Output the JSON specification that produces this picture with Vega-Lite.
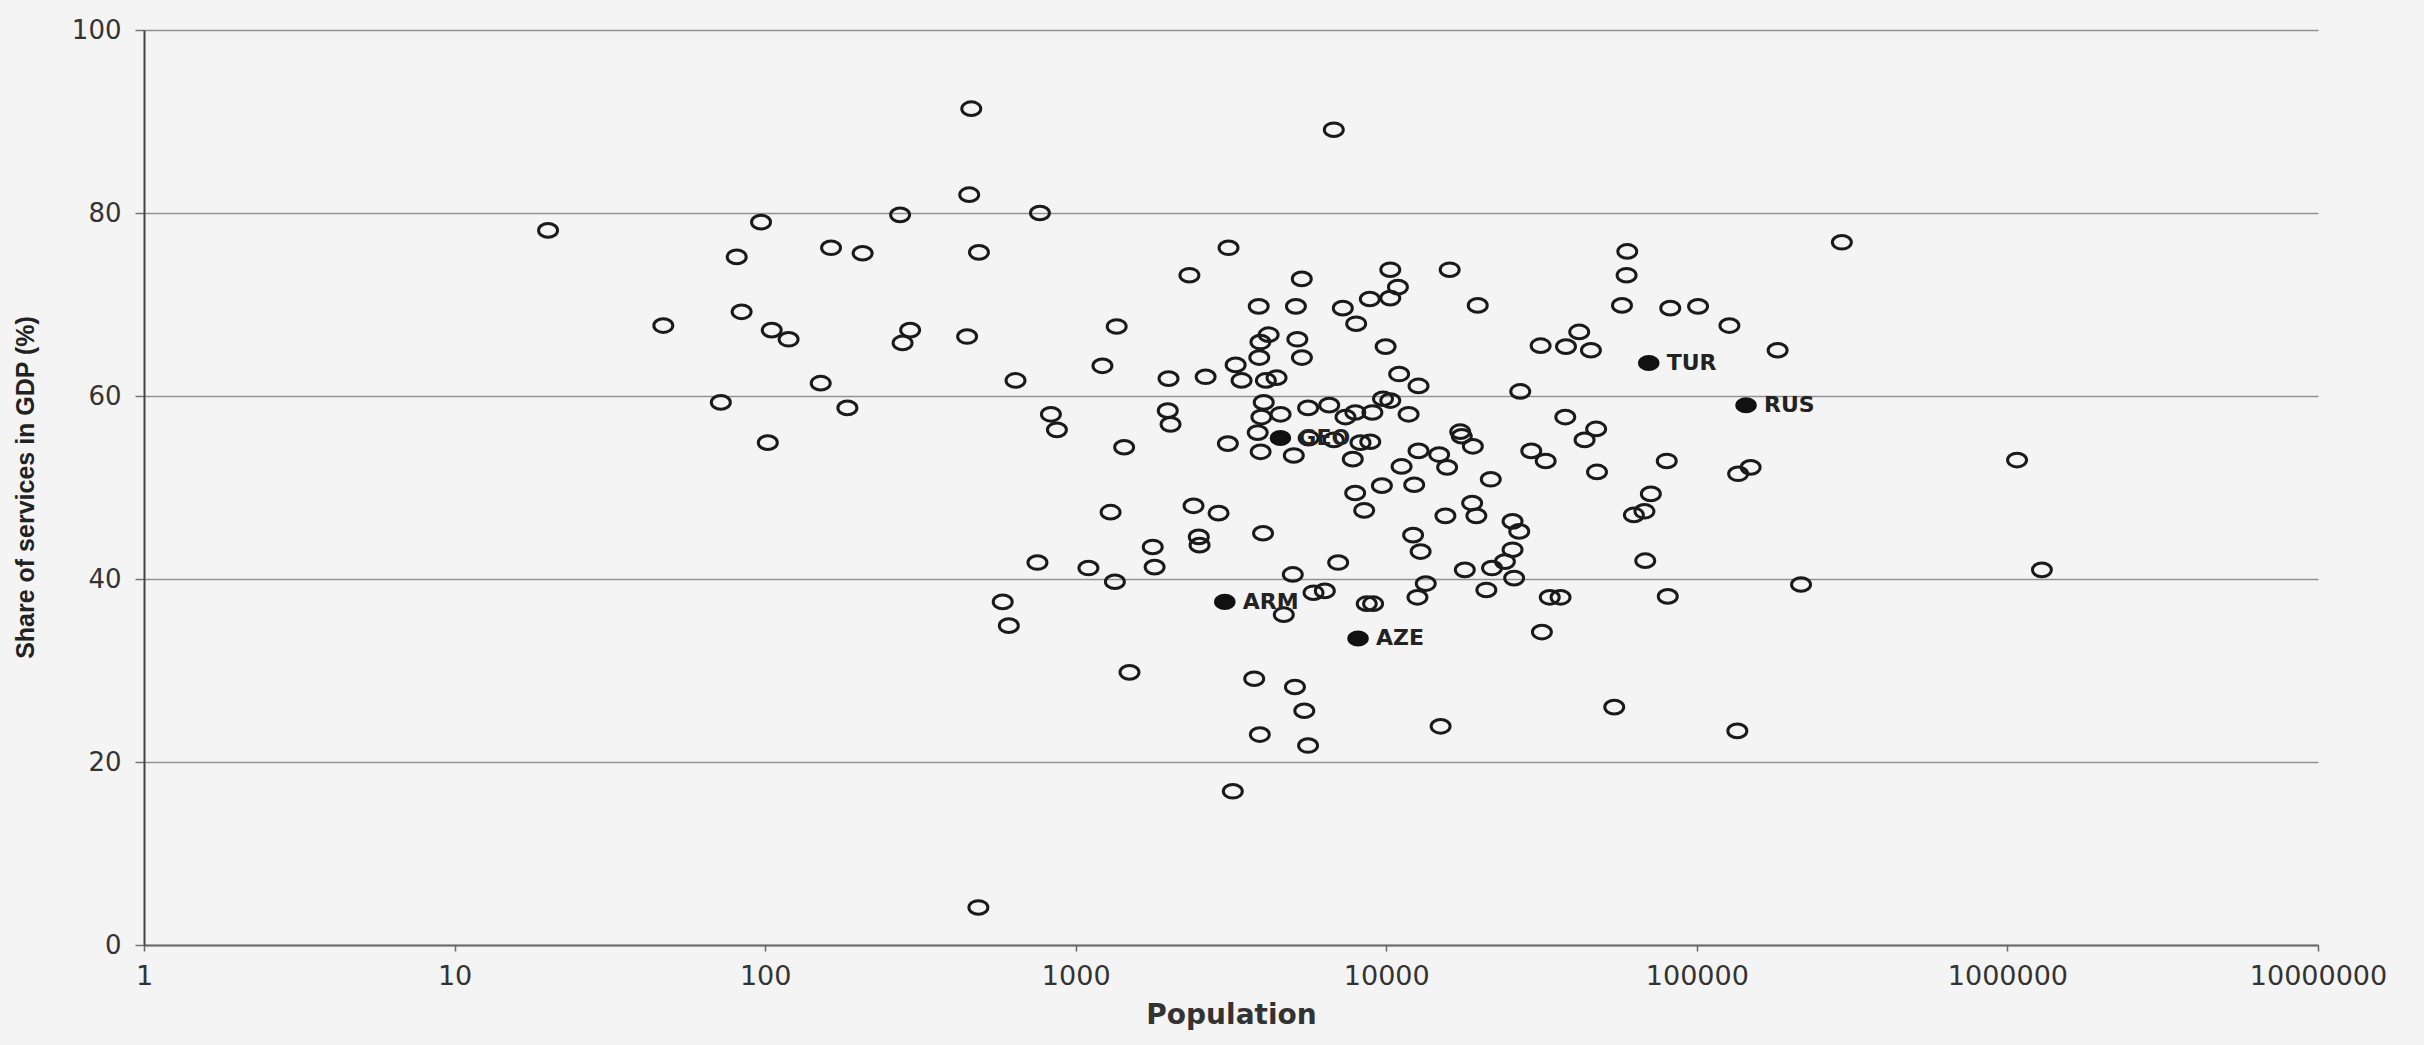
{
  "$schema": "https://vega.github.io/schema/vega-lite/v6.json",
  "width": 2174,
  "height": 915,
  "autosize": {"type": "none"},
  "padding": {"left": 144, "top": 30, "right": 106, "bottom": 100},
  "background": "#f4f4f4",
  "config": {"view": {"stroke": null}},
  "datasets": {
    "open": [
      {"pop": 461, "share": 91.4}, {"pop": 454, "share": 82.0}, {"pop": 272, "share": 79.8}, {"pop": 767, "share": 80.0},
      {"pop": 20, "share": 78.1}, {"pop": 97, "share": 79.0}, {"pop": 81, "share": 75.2}, {"pop": 163, "share": 76.2},
      {"pop": 206, "share": 75.6}, {"pop": 488, "share": 75.7}, {"pop": 84, "share": 69.2}, {"pop": 47, "share": 67.7},
      {"pop": 105, "share": 67.2}, {"pop": 119, "share": 66.2}, {"pop": 293, "share": 67.2}, {"pop": 277, "share": 65.8},
      {"pop": 447, "share": 66.5}, {"pop": 151, "share": 61.4}, {"pop": 640, "share": 61.7}, {"pop": 72, "share": 59.3},
      {"pop": 184, "share": 58.7}, {"pop": 832, "share": 58.0}, {"pop": 870, "share": 56.3}, {"pop": 102, "share": 54.9},
      {"pop": 6776, "share": 89.1}, {"pop": 3105, "share": 76.2}, {"pop": 2323, "share": 73.2}, {"pop": 10300, "share": 73.8},
      {"pop": 16000, "share": 73.8}, {"pop": 5344, "share": 72.8}, {"pop": 10900, "share": 71.9}, {"pop": 8850, "share": 70.6},
      {"pop": 10300, "share": 70.7}, {"pop": 3884, "share": 69.8}, {"pop": 5117, "share": 69.8}, {"pop": 7244, "share": 69.6},
      {"pop": 19700, "share": 69.9}, {"pop": 8000, "share": 67.9}, {"pop": 1355, "share": 67.6}, {"pop": 4180, "share": 66.7},
      {"pop": 3933, "share": 65.9}, {"pop": 5172, "share": 66.2}, {"pop": 9950, "share": 65.4}, {"pop": 31400, "share": 65.5},
      {"pop": 3900, "share": 64.2}, {"pop": 5350, "share": 64.2}, {"pop": 1219, "share": 63.3}, {"pop": 3273, "share": 63.4},
      {"pop": 11000, "share": 62.4}, {"pop": 1990, "share": 61.9}, {"pop": 2620, "share": 62.1}, {"pop": 3420, "share": 61.7},
      {"pop": 4095, "share": 61.7}, {"pop": 4433, "share": 62.0}, {"pop": 12700, "share": 61.1}, {"pop": 27000, "share": 60.5},
      {"pop": 1979, "share": 58.4}, {"pop": 2020, "share": 56.9}, {"pop": 1432, "share": 54.4}, {"pop": 4031, "share": 59.3},
      {"pop": 3961, "share": 57.7}, {"pop": 4567, "share": 58.0}, {"pop": 5600, "share": 58.7}, {"pop": 6550, "share": 59.0},
      {"pop": 7390, "share": 57.7}, {"pop": 7950, "share": 58.2}, {"pop": 9020, "share": 58.2}, {"pop": 9760, "share": 59.7},
      {"pop": 10300, "share": 59.5}, {"pop": 11800, "share": 58.0}, {"pop": 3855, "share": 56.0}, {"pop": 3090, "share": 54.8},
      {"pop": 3940, "share": 53.9}, {"pop": 5037, "share": 53.5}, {"pop": 5624, "share": 55.4}, {"pop": 6780, "share": 55.2},
      {"pop": 8260, "share": 54.9}, {"pop": 8880, "share": 55.0}, {"pop": 7800, "share": 53.1}, {"pop": 12700, "share": 54.0},
      {"pop": 14800, "share": 53.6}, {"pop": 15700, "share": 52.2}, {"pop": 11200, "share": 52.3}, {"pop": 17300, "share": 56.1},
      {"pop": 17500, "share": 55.6}, {"pop": 19000, "share": 54.5}, {"pop": 21700, "share": 50.9}, {"pop": 29300, "share": 54.0},
      {"pop": 32600, "share": 52.9}, {"pop": 7940, "share": 49.4}, {"pop": 9680, "share": 50.2}, {"pop": 12300, "share": 50.3},
      {"pop": 1295, "share": 47.3}, {"pop": 2395, "share": 48.0}, {"pop": 2884, "share": 47.2}, {"pop": 8490, "share": 47.5},
      {"pop": 18900, "share": 48.3}, {"pop": 19500, "share": 46.9}, {"pop": 15500, "share": 46.9}, {"pop": 25500, "share": 46.3},
      {"pop": 26800, "share": 45.2}, {"pop": 12200, "share": 44.8}, {"pop": 12900, "share": 43.0}, {"pop": 25500, "share": 43.2},
      {"pop": 24100, "share": 41.9}, {"pop": 25800, "share": 40.1}, {"pop": 21900, "share": 41.2}, {"pop": 17900, "share": 41.0},
      {"pop": 21000, "share": 38.8}, {"pop": 13400, "share": 39.5}, {"pop": 12600, "share": 38.0}, {"pop": 4010, "share": 45.0},
      {"pop": 2490, "share": 44.6}, {"pop": 2505, "share": 43.7}, {"pop": 1770, "share": 43.5}, {"pop": 1795, "share": 41.3},
      {"pop": 753, "share": 41.8}, {"pop": 1099, "share": 41.2}, {"pop": 1337, "share": 39.7}, {"pop": 5000, "share": 40.5},
      {"pop": 7000, "share": 41.8}, {"pop": 5830, "share": 38.5}, {"pop": 6340, "share": 38.7}, {"pop": 8650, "share": 37.3},
      {"pop": 9070, "share": 37.3}, {"pop": 4677, "share": 36.1}, {"pop": 582, "share": 37.5}, {"pop": 609, "share": 34.9},
      {"pop": 31700, "share": 34.2}, {"pop": 1490, "share": 29.8}, {"pop": 3756, "share": 29.1}, {"pop": 5080, "share": 28.2},
      {"pop": 5445, "share": 25.6}, {"pop": 3916, "share": 23.0}, {"pop": 5600, "share": 21.8}, {"pop": 14960, "share": 23.9},
      {"pop": 3205, "share": 16.8}, {"pop": 486, "share": 4.1},
      {"pop": 293000, "share": 76.8}, {"pop": 59700, "share": 75.8}, {"pop": 59400, "share": 73.2}, {"pop": 57400, "share": 69.9},
      {"pop": 82100, "share": 69.6}, {"pop": 100900, "share": 69.8}, {"pop": 127300, "share": 67.7}, {"pop": 41800, "share": 67.0},
      {"pop": 37900, "share": 65.4}, {"pop": 45600, "share": 65.0}, {"pop": 182000, "share": 65.0}, {"pop": 37700, "share": 57.7},
      {"pop": 47400, "share": 56.4}, {"pop": 43500, "share": 55.2}, {"pop": 47700, "share": 51.7}, {"pop": 80000, "share": 52.9},
      {"pop": 149000, "share": 52.2}, {"pop": 135800, "share": 51.5}, {"pop": 1074000, "share": 53.0}, {"pop": 71100, "share": 49.3},
      {"pop": 62700, "share": 47.0}, {"pop": 67800, "share": 47.4}, {"pop": 68200, "share": 42.0}, {"pop": 216500, "share": 39.4},
      {"pop": 1291000, "share": 41.0}, {"pop": 33600, "share": 38.0}, {"pop": 36400, "share": 38.0}, {"pop": 80600, "share": 38.1},
      {"pop": 54200, "share": 26.0}, {"pop": 135000, "share": 23.4}
    ],
    "hl": [
      {"pop": 4560, "share": 55.4, "code": "GEO"},
      {"pop": 3020, "share": 37.5, "code": "ARM"},
      {"pop": 8110, "share": 33.5, "code": "AZE"},
      {"pop": 70000, "share": 63.6, "code": "TUR"},
      {"pop": 144000, "share": 59.0, "code": "RUS"}
    ]
  },
  "encoding": {
    "x": {
      "field": "pop", "type": "quantitative",
      "scale": {"type": "log", "domain": [1, 10000000]},
      "axis": {
        "values": [1, 10, 100, 1000, 10000, 100000, 1000000, 10000000],
        "format": "d", "grid": false, "title": "Population",
        "labelFont": "DejaVu Sans", "labelFontSize": 27, "labelColor": "#333333",
        "labelPadding": 12, "labelFlush": false, "labelOverlap": false,
        "tickSize": 6, "tickColor": "#666666", "tickWidth": 1.5,
        "domainColor": "#6a6a6a", "domainWidth": 2,
        "titleFont": "DejaVu Sans", "titleFontSize": 28, "titleFontWeight": "bold",
        "titleColor": "#333333", "titlePadding": 12
      }
    },
    "y": {
      "field": "share", "type": "quantitative",
      "scale": {"domain": [0, 100]},
      "axis": {
        "values": [0, 20, 40, 60, 80, 100],
        "title": "Share of services in GDP (%)",
        "grid": true, "gridColor": "#929292", "gridWidth": 1.5,
        "domainColor": "#444444", "domainWidth": 2,
        "tickSize": 9, "tickColor": "#777777", "tickWidth": 1.5,
        "labelFont": "DejaVu Sans", "labelFontSize": 26, "labelColor": "#333333",
        "labelPadding": 14,
        "titleFont": "Liberation Sans", "titleFontSize": 25, "titleFontWeight": "bold",
        "titleColor": "#222222", "titleX": -119, "titleY": 457,
        "titleAngle": -90, "titleAlign": "center", "titleBaseline": "middle"
      }
    }
  },
  "layer": [
    {
      "data": {"name": "open"},
      "mark": {
        "type": "point",
        "shape": "M-1,0A1,0.72,0,1,1,1,0A1,0.72,0,1,1,-1,0Z",
        "filled": false, "stroke": "#1a1a1a", "strokeWidth": 3,
        "size": 360, "opacity": 1
      }
    },
    {
      "data": {"name": "hl"},
      "mark": {
        "type": "point",
        "shape": "M-1,0A1,0.72,0,1,1,1,0A1,0.72,0,1,1,-1,0Z",
        "filled": true, "fill": "#111111", "stroke": "#111111", "strokeWidth": 2,
        "size": 380, "opacity": 1
      }
    },
    {
      "data": {"name": "hl"},
      "mark": {
        "type": "text", "align": "left", "baseline": "middle", "dx": 18,
        "font": "DejaVu Sans", "fontWeight": "bold", "fontSize": 22, "color": "#222222"
      },
      "encoding": {"text": {"field": "code", "type": "nominal"}}
    }
  ]
}
